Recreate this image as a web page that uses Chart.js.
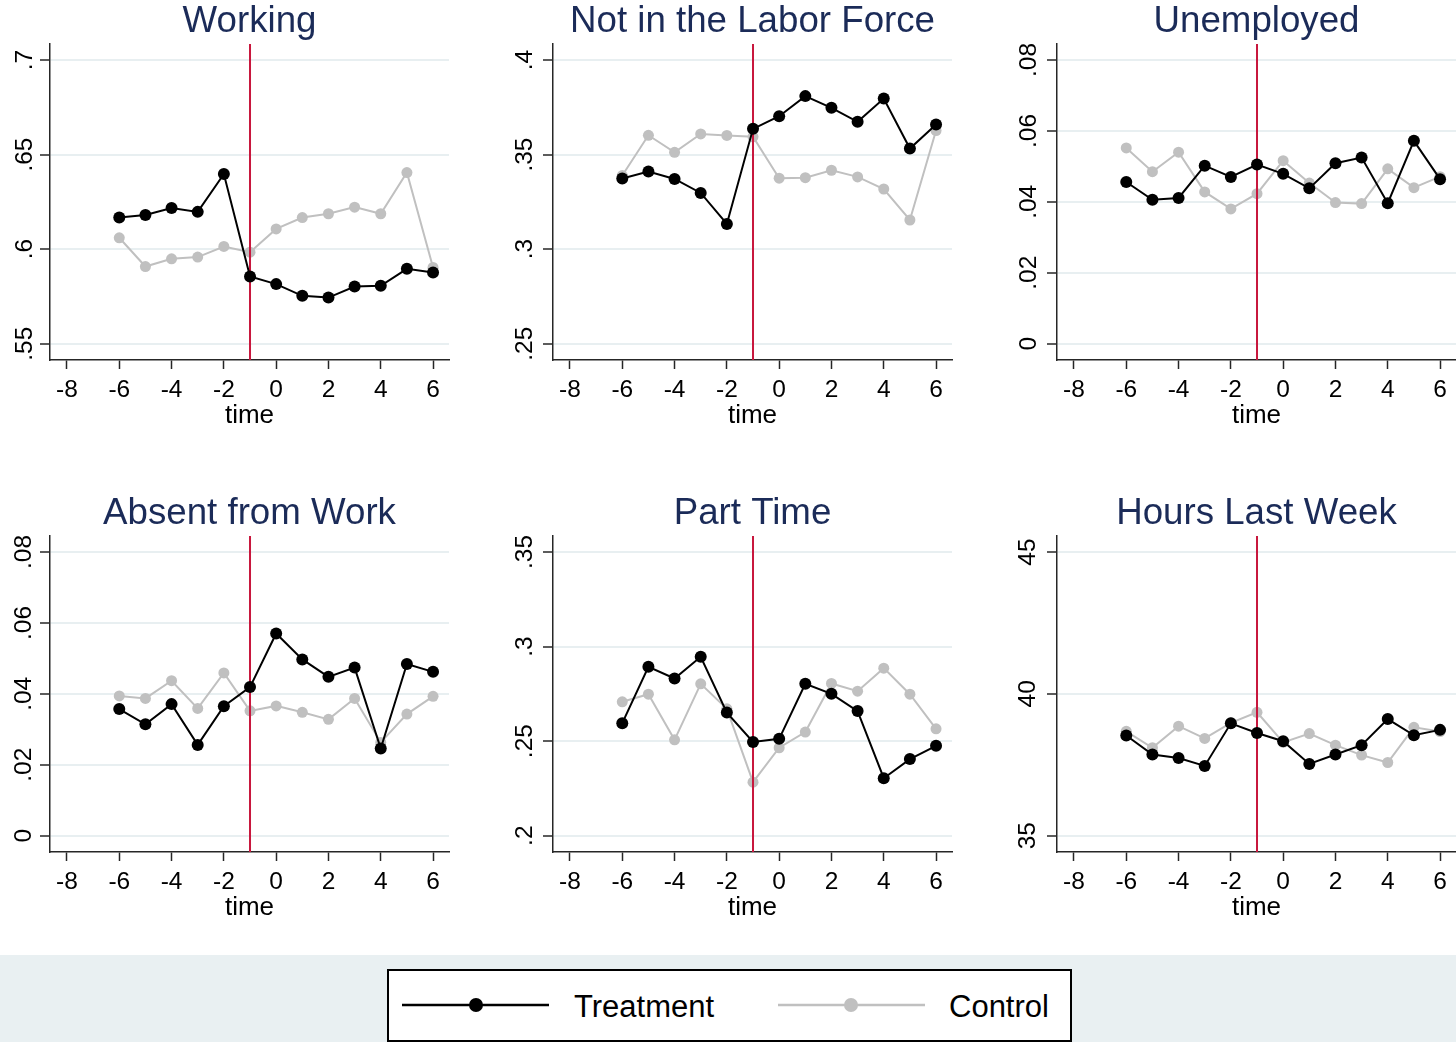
<!DOCTYPE html>
<html>
<head>
<meta charset="utf-8">
<script src="https://cdn.jsdelivr.net/npm/chart.js@4.4.1/dist/chart.umd.min.js"></script>
<style>
  html, body { margin: 0; padding: 0; background: #ffffff; width: 1456px; height: 1042px; overflow: hidden; position: relative; font-family: "Liberation Sans", Arial, sans-serif; }
  canvas.panel { position: absolute; }
  #band { position: absolute; left: 0; top: 955px; width: 1456px; height: 87px; background: #e9f0f2; }
  #legend { position: absolute; left: 387px; top: 969px; width: 681px; height: 69px; border: 2px solid #000; background: #fff; }
  #legend svg { position: absolute; left: 0; top: 0; }
  #legend span { position: absolute; top: 20px; font-size: 31px; line-height: 31px; color: #000; white-space: nowrap; }
</style>
</head>
<body>
<div id="band"></div>
<div id="legend">
  <svg width="681" height="69">
    <line x1="13" y1="34" x2="160" y2="34" stroke="#000" stroke-width="2.5"/>
    <circle cx="87" cy="34" r="7" fill="#000"/>
    <line x1="389" y1="34" x2="536" y2="34" stroke="#c0c0c0" stroke-width="2.5"/>
    <circle cx="462" cy="34" r="7" fill="#c0c0c0"/>
  </svg>
  <span id="lgT" style="left:185px">Treatment</span>
  <span id="lgC" style="left:560px">Control</span>
</div>

<script>
// ---------- data ----------
const time = [-6, -5, -4, -3, -2, -1, 0, 1, 2, 3, 4, 5, 6];
const eventTime = -1;
const xTicks = [-8, -6, -4, -2, 0, 2, 4, 6];
const seriesNames = ['Treatment', 'Control'];
const panelTitles = ['Working', 'Not in the Labor Force', 'Unemployed', 'Absent from Work', 'Part Time', 'Hours Last Week'];

const workingTreatment = [0.6167, 0.6181, 0.6217, 0.6197, 0.6397, 0.5855, 0.5815, 0.5753, 0.5744, 0.5802, 0.5806, 0.5896, 0.5876];
const workingControl   = [0.6060, 0.5908, 0.5949, 0.5958, 0.6014, 0.5984, 0.6107, 0.6167, 0.6187, 0.6222, 0.6187, 0.6405, 0.5903];

const nilfTreatment = [0.3373, 0.3410, 0.3371, 0.3297, 0.3133, 0.3636, 0.3703, 0.3809, 0.3747, 0.3673, 0.3796, 0.3532, 0.3659];
const nilfControl   = [0.3389, 0.3602, 0.3512, 0.3609, 0.3601, 0.3594, 0.3375, 0.3378, 0.3417, 0.3382, 0.3318, 0.3154, 0.3627];

const unempTreatment = [0.0456, 0.0406, 0.0411, 0.0502, 0.0470, 0.0505, 0.0479, 0.0438, 0.0509, 0.0525, 0.0396, 0.0572, 0.0464];
const unempControl   = [0.0552, 0.0485, 0.0540, 0.0428, 0.0380, 0.0423, 0.0516, 0.0453, 0.0398, 0.0395, 0.0493, 0.0440, 0.0471];

const absentTreatment = [0.0357, 0.0314, 0.0371, 0.0256, 0.0365, 0.0419, 0.0570, 0.0497, 0.0448, 0.0474, 0.0246, 0.0484, 0.0462];
const absentControl   = [0.0394, 0.0387, 0.0437, 0.0359, 0.0459, 0.0352, 0.0366, 0.0348, 0.0328, 0.0387, 0.0263, 0.0343, 0.0393];

const partTreatment = [0.2595, 0.2893, 0.2831, 0.2946, 0.2651, 0.2496, 0.2512, 0.2803, 0.2750, 0.2659, 0.2304, 0.2405, 0.2475];
const partControl   = [0.2708, 0.2748, 0.2507, 0.2803, 0.2671, 0.2283, 0.2465, 0.2548, 0.2805, 0.2764, 0.2886, 0.2748, 0.2565];

const hoursTreatment = [38.53, 37.86, 37.74, 37.46, 38.96, 38.62, 38.33, 37.53, 37.86, 38.19, 39.11, 38.54, 38.73];
const hoursControl   = [38.68, 38.10, 38.86, 38.43, 38.98, 39.35, 38.29, 38.60, 38.19, 37.84, 37.58, 38.82, 38.67];

const workingTicks = [0.55, 0.6, 0.65, 0.7];
const workingTickLabels = ['.55', '.6', '.65', '.7'];
const nilfTicks = [0.25, 0.3, 0.35, 0.4];
const nilfTickLabels = ['.25', '.3', '.35', '.4'];
const shareTicks = [0, 0.02, 0.04, 0.06, 0.08];
const shareTickLabels = ['0', '.02', '.04', '.06', '.08'];
const partTicks = [0.2, 0.25, 0.3, 0.35];
const partTickLabels = ['.2', '.25', '.3', '.35'];
const hoursTicks = [35, 40, 45];
const hoursTickLabels = ['35', '40', '45'];

// ---------- styling / layout ----------
const FONT = '"Liberation Sans", Arial, Helvetica, sans-serif';
const TITLE_COLOR = '#1b2b58';
const RED = '#c8173d';
const GRID = '#e8eff1';
const AXIS = '#262626';
const TREAT_COLOR = '#000000';
const CTRL_COLOR = '#c0c0c0';

const panels = [
  { title: panelTitles[0], t: workingTreatment, c: workingControl, ticks: workingTicks, labels: workingTickLabels, min: 0.54138, max: 0.70846, pad: -2, left: 0,    top: 0 },
  { title: panelTitles[1], t: nilfTreatment,    c: nilfControl,    ticks: nilfTicks,    labels: nilfTickLabels,    min: 0.24138, max: 0.40846, pad: 1,  left: 503,  top: 0 },
  { title: panelTitles[2], t: unempTreatment,   c: unempControl,   ticks: shareTicks,   labels: shareTickLabels,   min: -0.0046, max: 0.08451, pad: 1,  left: 1007, top: 0 },
  { title: panelTitles[3], t: absentTreatment,  c: absentControl,  ticks: shareTicks,   labels: shareTickLabels,   min: -0.0046, max: 0.08451, pad: -1, left: 0,    top: 492 },
  { title: panelTitles[4], t: partTreatment,    c: partControl,    ticks: partTicks,    labels: partTickLabels,    min: 0.19138, max: 0.35846, pad: 1,  left: 503,  top: 492 },
  { title: panelTitles[5], t: hoursTreatment,   c: hoursControl,   ticks: hoursTicks,   labels: hoursTickLabels,   min: 34.425,  max: 45.564,  pad: 5,  left: 1007, top: 492 }
];

const titlePlugin = {
  id: 'panelTitle',
  afterDraw(chart, args, opts) {
    const { ctx, chartArea } = chart;
    ctx.save();
    ctx.font = '36.7px ' + FONT;
    ctx.fillStyle = TITLE_COLOR;
    ctx.textAlign = 'center';
    ctx.textBaseline = 'alphabetic';
    ctx.fillText(opts.text, (chartArea.left + chartArea.right) / 2, 32);
    ctx.restore();
  }
};

const eventLinePlugin = {
  id: 'eventLine',
  beforeDatasetDraw(chart, args, opts) {
    if (args.index !== 0) return;
    const { ctx, chartArea, scales } = chart;
    const x = scales.x.getPixelForValue(opts.value);
    ctx.save();
    ctx.strokeStyle = RED;
    ctx.lineWidth = 2;
    ctx.beginPath();
    ctx.moveTo(x, chartArea.top);
    ctx.lineTo(x, chartArea.bottom);
    ctx.stroke();
    ctx.restore();
  }
};

const W = 455, H = 440;

panels.forEach((p) => {
  const cv = document.createElement('canvas');
  cv.className = 'panel';
  cv.width = W; cv.height = H;
  cv.style.left = p.left + 'px';
  cv.style.top = p.top + 'px';
  cv.style.width = W + 'px';
  cv.style.height = H + 'px';
  document.body.appendChild(cv);

  const tData = time.map((x, i) => ({ x: x, y: p.t[i] }));
  const cData = time.map((x, i) => ({ x: x, y: p.c[i] }));

  new Chart(cv, {
    type: 'line',
    data: {
      datasets: [
        { label: seriesNames[0], data: tData, borderColor: TREAT_COLOR, backgroundColor: TREAT_COLOR,
          borderWidth: 2, pointRadius: 6, pointBorderWidth: 0, pointBackgroundColor: TREAT_COLOR, tension: 0, fill: false },
        { label: seriesNames[1], data: cData, borderColor: CTRL_COLOR, backgroundColor: CTRL_COLOR,
          borderWidth: 2, pointRadius: 5.5, pointBorderWidth: 0, pointBackgroundColor: CTRL_COLOR, tension: 0, fill: false }
      ]
    },
    options: {
      responsive: false,
      animation: false,
      devicePixelRatio: 1,
      layout: { padding: { top: 44, right: 0, bottom: 0, left: 0 } },
      plugins: {
        legend: { display: false },
        tooltip: { enabled: false },
        title: { display: false },
        panelTitle: { text: p.title },
        eventLine: { value: eventTime }
      },
      scales: {
        x: {
          type: 'linear',
          min: -8.649, max: 6.61,
          afterBuildTicks: (s) => { s.ticks = xTicks.map(v => ({ value: v })); },
          afterFit: (s) => { s.height = 80; },
          ticks: { autoSkip: false, maxRotation: 0, minRotation: 0, padding: 7, color: '#000',
                   font: { family: FONT, size: 24.5 }, callback: (v) => String(v) },
          grid: { drawOnChartArea: false, drawTicks: true, tickLength: 9, tickColor: AXIS, tickWidth: 1.5 },
          border: { display: true, color: AXIS, width: 1.5 },
          title: { display: true, text: 'time', color: '#000', font: { family: FONT, size: 26 }, padding: { top: 0, bottom: 9 } }
        },
        y: {
          type: 'linear',
          min: p.min, max: p.max,
          afterBuildTicks: (s) => { s.ticks = p.ticks.map(v => ({ value: v })); },
          afterFit: (s) => { s.width = 50; },
          ticks: { autoSkip: false, minRotation: 90, maxRotation: 90, crossAlign: 'center', padding: p.pad, color: '#000',
                   font: { family: FONT, size: 24.5 }, callback: (v, i) => p.labels[i] },
          grid: { color: GRID, lineWidth: 2, drawTicks: true, tickLength: 10, tickColor: AXIS, tickWidth: 1.5 },
          border: { display: true, color: AXIS, width: 1.5 }
        }
      }
    },
    plugins: [titlePlugin, eventLinePlugin]
  });
});
</script>
</body>
</html>
